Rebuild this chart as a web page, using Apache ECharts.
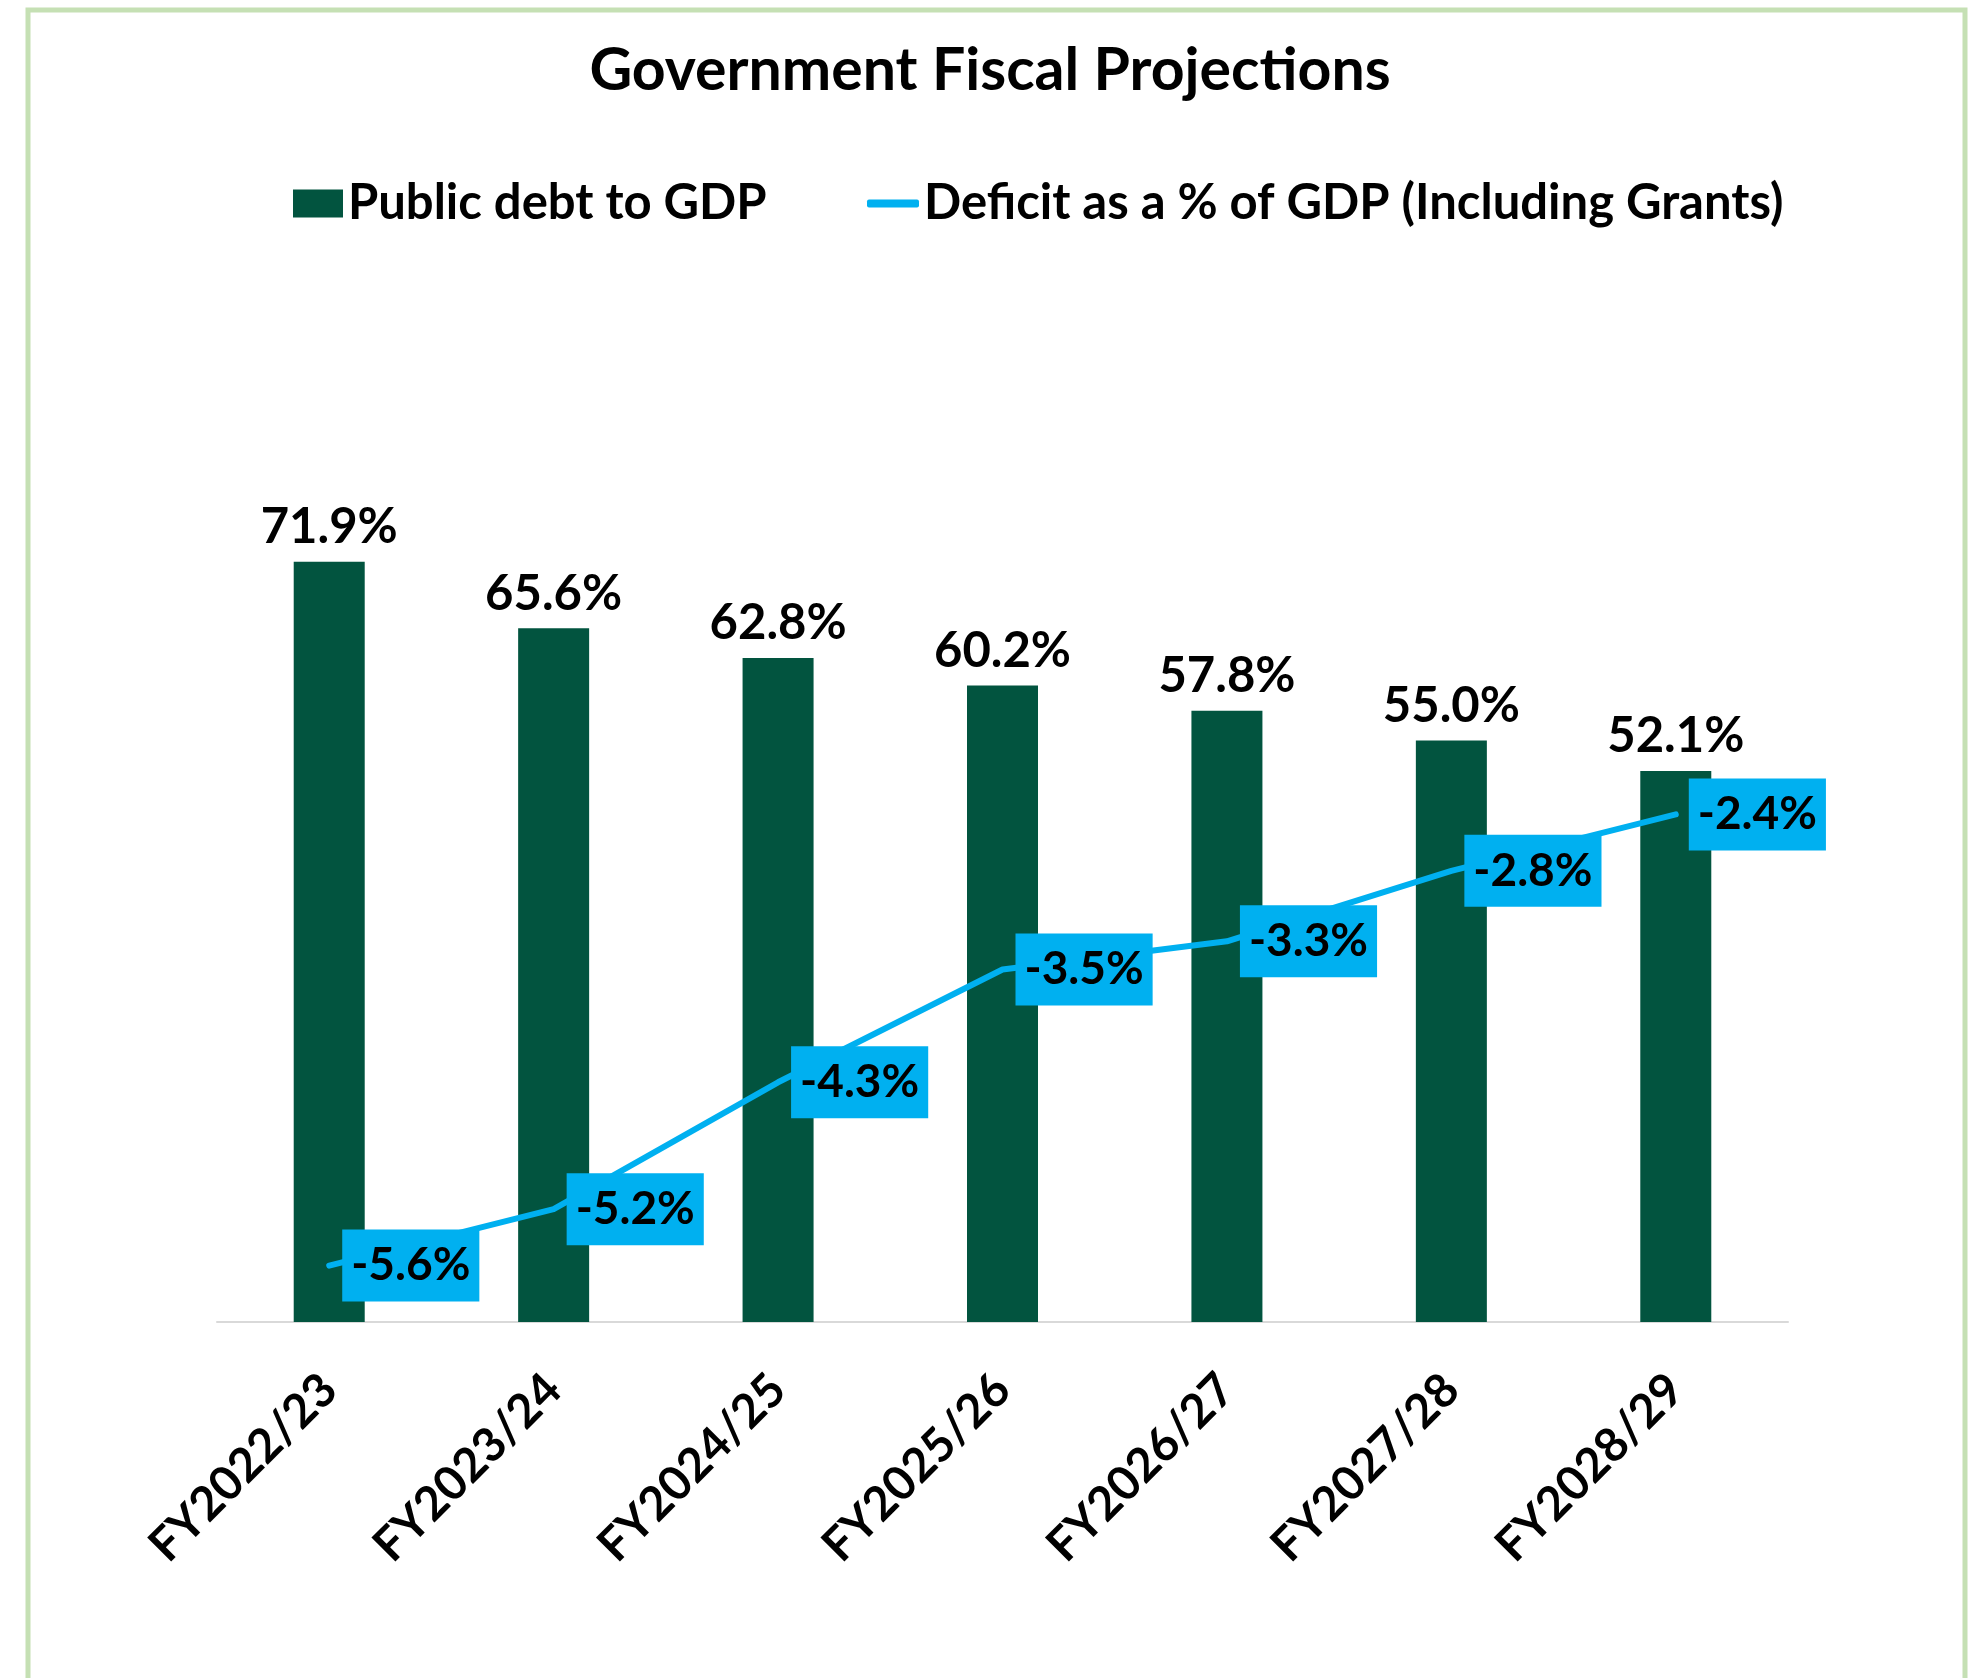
<!DOCTYPE html>
<html>
<head>
<meta charset="utf-8">
<script src="https://cdn.jsdelivr.net/npm/echarts@6/dist/echarts.min.js"></script>
<style>
  html, body { margin: 0; padding: 0; background: #ffffff; }
  #chart { width: 1980px; height: 1678px; }
</style>
</head>
<body>
<div id="chart"></div>
<script>
// Fiscal years on the category axis
const years = ['FY2022/23', 'FY2023/24', 'FY2024/25', 'FY2025/26', 'FY2026/27', 'FY2027/28', 'FY2028/29'];
// Public debt as a share of GDP (%)
const debtToGdp = [71.9, 65.6, 62.8, 60.2, 57.8, 55.0, 52.1];
// Fiscal deficit incl. grants as a share of GDP (%)
const deficitToGdp = [-5.6, -5.2, -4.3, -3.5, -3.3, -2.8, -2.4];

const seriesNames = ['Public debt to GDP', 'Deficit as a % of GDP (Including Grants)'];
const titleText = 'Government Fiscal Projections';

const FONT = 'Lato, "Liberation Sans", sans-serif';
const GREEN = '#02543F';
const BLUE = '#00B0F0';

const chart = echarts.init(document.getElementById('chart'), null, { renderer: 'canvas' });

chart.setOption({
  backgroundColor: '#ffffff',
  animation: false,
  textStyle: { fontFamily: FONT },
  graphic: [{
    type: 'rect',
    shape: { x: 28, y: 10, width: 1937, height: 1720 },
    style: { fill: 'none', stroke: '#C5E0B4', lineWidth: 5 },
    silent: true
  }],
  title: {
    text: titleText,
    left: 'center',
    top: 36,
    textStyle: { fontFamily: FONT, fontWeight: 'bold', fontSize: 59, color: '#000000' }
  },
  legend: [{
    data: [seriesNames[0]],
    left: 288,
    top: 174,
    icon: 'rect',
    itemWidth: 50,
    itemHeight: 28,
    textStyle: { fontFamily: FONT, fontWeight: 'bold', fontSize: 49, color: '#000000' }
  }, {
    data: [seriesNames[1]],
    left: 862,
    top: 174,
    icon: 'roundRect',
    itemWidth: 52,
    itemHeight: 8,
    textStyle: { fontFamily: FONT, fontWeight: 'bold', fontSize: 49, color: '#000000' }
  }],
  grid: { left: 217, right: 192, top: 476, bottom: 356, containLabel: false },
  xAxis: {
    type: 'category',
    data: years,
    axisLine: { show: true, onZero: false, lineStyle: { color: '#D9D9D9', width: 2 } },
    axisTick: { show: false },
    axisLabel: {
      rotate: 45,
      margin: 60,
      interval: 0,
      fontFamily: FONT,
      fontWeight: 'bold',
      fontSize: 47,
      color: '#000000'
    }
  },
  yAxis: [{
    type: 'value',
    min: 0,
    max: 80,
    show: false,
    splitLine: { show: false }
  }, {
    type: 'value',
    min: -6,
    max: 0,
    show: false,
    splitLine: { show: false }
  }],
  series: [{
    name: seriesNames[0],
    type: 'bar',
    data: debtToGdp,
    yAxisIndex: 0,
    barWidth: 71,
    itemStyle: { color: GREEN },
    label: {
      show: true,
      position: 'top',
      distance: 10,
      formatter: p => p.value.toFixed(1) + '%',
      fontFamily: FONT,
      fontWeight: 'bold',
      fontSize: 49,
      color: '#000000'
    }
  }, {
    name: seriesNames[1],
    type: 'line',
    data: deficitToGdp,
    yAxisIndex: 1,
    symbol: 'circle',
    symbolSize: 2,
    itemStyle: { color: BLUE },
    lineStyle: { color: BLUE, width: 6, cap: 'round', join: 'round' },
    label: {
      show: true,
      position: 'right',
      distance: 12,
      formatter: p => p.value.toFixed(1) + '%',
      backgroundColor: BLUE,
      lineHeight: 50,
      padding: [12, 9, 10, 9],
      fontFamily: FONT,
      fontWeight: 'bold',
      fontSize: 46,
      color: '#000000'
    }
  }]
});
</script>
</body>
</html>
